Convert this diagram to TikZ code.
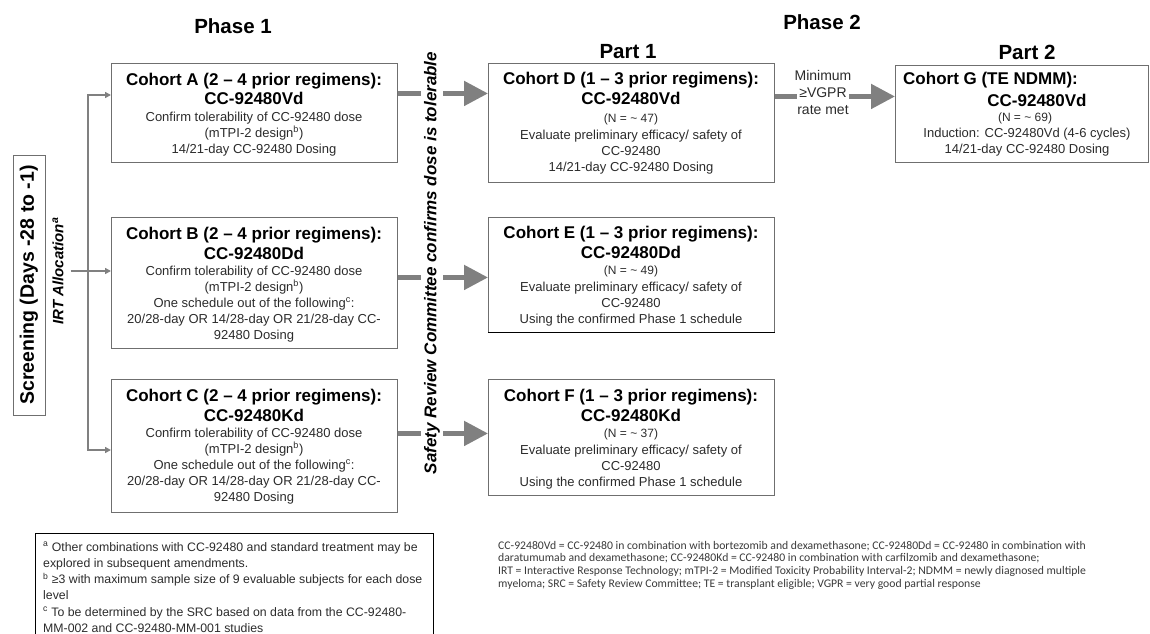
\documentclass[tikz,border=0pt]{standalone}
\usepackage{fontspec}
\setmainfont{Liberation Sans}
\newfontfamily\abbrfont{Carlito}
\usetikzlibrary{arrows.meta}

\definecolor{frame}{HTML}{6F6F6F}
\definecolor{flow}{HTML}{808080}
\definecolor{ink}{HTML}{2B2B2B}
\definecolor{noteink}{HTML}{3A3A3A}

\newcommand{\cohorttitle}{\color{black}\bfseries\fontsize{17}{19}\selectfont}
\newcommand{\nline}{\fontsize{12}{15}\selectfont}

\tikzset{
  cohortbox/.style={draw=frame, line width=0.9pt, anchor=north west, inner sep=0pt},
  cohorttext/.style={anchor=north, align=center, inner sep=0pt, text=ink, font=\fontsize{13}{16}\selectfont},
  heading/.style={font=\bfseries\fontsize{20.5}{24}\selectfont, inner sep=0pt},
  link/.style={draw=flow, line width=1.8pt},
  linktip/.style={-{Triangle[length=6pt,width=6pt]}},
  flowarrow/.style={draw=flow, line width=5pt, -{Triangle[length=24pt,width=24pt]}},
  smalltext/.style={inner sep=0pt, text=ink, font=\fontsize{13}{16}\selectfont},
}

\begin{document}
\begin{tikzpicture}[x=1pt,y=-1pt]
\useasboundingbox (0,0) rectangle (1150,633);

% headings
\node[heading] (ph1) at (233,26) {Phase 1};
\node[heading] (ph2) at (822,22) {Phase 2};
\node[heading] (pt1) at (628,52) {Part 1};
\node[heading] (pt2) at (1027,52) {Part 2};

% screening and allocation
\node[draw=frame, line width=0.9pt, rotate=90, minimum width=260pt, minimum height=32pt,
      inner sep=0pt, font=\bfseries\fontsize{19.5}{22}\selectfont] (scr) at (29,285) {Screening (Days -28 to -1)};
\node[rotate=90, inner sep=0pt, font=\bfseries\itshape\fontsize{15}{18}\selectfont] (irt) at (58,271) {IRT Allocation\textsuperscript{a}};

% phase 1 cohorts
\node[cohortbox, minimum width=286pt, minimum height=99pt] (A) at (111,63) {};
\node[cohortbox, minimum width=286pt, minimum height=131pt] (B) at (111,217) {};
\node[cohortbox, minimum width=286pt, minimum height=133pt] (C) at (111,379) {};

\node[cohorttext] (At) at (254,72.7) {{\cohorttitle Cohort A (2 – 4 prior regimens):}\\[3pt]{\cohorttitle CC-92480Vd}\\[1pt]Confirm tolerability of CC-92480 dose\\(mTPI-2 design\textsuperscript{b})\\14/21-day CC-92480 Dosing};
\node[cohorttext] (Bt) at (254,226.7) {{\cohorttitle Cohort B (2 – 4 prior regimens):}\\[4pt]{\cohorttitle CC-92480Dd}\\[0pt]Confirm tolerability of CC-92480 dose\\(mTPI-2 design\textsuperscript{b})\\One schedule out of the following\textsuperscript{c}:\\20/28-day OR 14/28-day OR 21/28-day CC-\\92480 Dosing};
\node[cohorttext] (Ct) at (254,388.7) {{\cohorttitle Cohort C (2 – 4 prior regimens):}\\[4pt]{\cohorttitle CC-92480Kd}\\[0pt]Confirm tolerability of CC-92480 dose\\(mTPI-2 design\textsuperscript{b})\\One schedule out of the following\textsuperscript{c}:\\20/28-day OR 14/28-day OR 21/28-day CC-\\92480 Dosing};

% phase 2, part 1 cohorts
\node[cohortbox, minimum width=286pt, minimum height=119pt] (D) at (488,63) {};
\node[cohortbox, minimum width=286pt, minimum height=115pt] (E) at (488,217) {};
\node[cohortbox, minimum width=286pt, minimum height=116pt] (F) at (488,379) {};
\draw[black, line width=1.1pt] (E.south west) -- (E.south east);

\node[cohorttext] (Dt) at (631,71.7) {{\cohorttitle Cohort D (1 – 3 prior regimens):}\\[4pt]{\cohorttitle CC-92480Vd}\\[2pt]{\nline (N = \textasciitilde{} 47)}\\[1.5pt]Evaluate preliminary efficacy/ safety of\\CC-92480\\14/21-day CC-92480 Dosing};
\node[cohorttext] (Et) at (631,225.7) {{\cohorttitle Cohort E (1 – 3 prior regimens):}\\[4pt]{\cohorttitle CC-92480Dd}\\[0pt]{\nline (N = \textasciitilde{} 49)}\\[1.5pt]Evaluate preliminary efficacy/ safety of\\CC-92480\\Using the confirmed Phase 1 schedule};
\node[cohorttext] (Ft) at (631,388.7) {{\cohorttitle Cohort F (1 – 3 prior regimens):}\\[4pt]{\cohorttitle CC-92480Kd}\\[0pt]{\nline (N = \textasciitilde{} 37)}\\[1.5pt]Evaluate preliminary efficacy/ safety of\\CC-92480\\Using the confirmed Phase 1 schedule};

% phase 2, part 2 cohort
\node[cohortbox, minimum width=253pt, minimum height=97pt] (G) at (895,65) {};
\node[anchor=base west, inner sep=0pt, font=\bfseries\fontsize{17}{19}\selectfont] (Gt) at (903,84) {Cohort G (TE NDMM):};
\node[anchor=base, inner sep=0pt, font=\bfseries\fontsize{17}{19}\selectfont] (Gd) at (1037,106) {CC-92480Vd};
\node[anchor=base, smalltext, font=\fontsize{12}{15}\selectfont] (Gn) at (1025,121.5) {(N = \textasciitilde{} 69)};
\node[anchor=base, smalltext] (Gi) at (1027,137.6) {Induction: CC-92480Vd (4-6 cycles)};
\node[anchor=base, smalltext] (Gs) at (1027,153.6) {14/21-day CC-92480 Dosing};

% allocation connectors
\coordinate (ja) at (88,95);
\coordinate (jc) at (88,450);
\draw[link, {Triangle[length=6pt,width=6pt]}-{Triangle[length=6pt,width=6pt]}]
  (ja -| A.west) -- (ja) -- (jc) -- (jc -| C.west);
\draw[link, linktip] ([xshift=7pt]irt.south) -- (irt.south -| B.west);

% phase 1 to phase 2 transitions
\draw[flowarrow] ([yshift=19.5pt]A.east) -- ([yshift=19.5pt]A.east -| D.west);
\draw[flowarrow] ([yshift=5.5pt]B.east) -- ([yshift=5.5pt]B.east -| E.west);
\draw[flowarrow] ([yshift=12.5pt]C.east) -- ([yshift=12.5pt]C.east -| F.west);
\node[rotate=90, fill=white, inner sep=3pt, font=\bfseries\itshape\fontsize{17}{20}\selectfont] (src) at (432,263)
  {Safety Review Committee confirms dose is tolerable};

% part 1 to part 2 transition
\draw[flowarrow] ([yshift=26.5pt]D.east) -- ([yshift=26.5pt]D.east -| G.west);
\node[smalltext, font=\fontsize{14}{16}\selectfont] (vg1) at (823,75) {Minimum};
\node[smalltext, font=\fontsize{14}{16}\selectfont, fill=white, inner sep=2.5pt] (vg2) at (823,93) {≥VGPR};
\node[smalltext, font=\fontsize{14}{16}\selectfont] (vg3) at (823,110) {rate met};

% footnotes
\node[draw=black, line width=0.9pt, anchor=north west, minimum width=398pt, minimum height=110pt, inner sep=0pt] (notes) at (35,533) {};
\node[anchor=north west, align=left, inner sep=0pt, text=ink, font=\fontsize{12.3}{16.2}\selectfont] (notetext) at (43,542)
  {\textsuperscript{a} Other combinations with CC-92480 and standard treatment may be\\
   explored in subsequent amendments.\\
   \textsuperscript{b} ≥3 with maximum sample size of 9 evaluable subjects for each dose\\
   level\\
   \textsuperscript{c} To be determined by the SRC based on data from the CC-92480-\\
   MM-002 and CC-92480-MM-001 studies};

% abbreviations
\node[anchor=north west, align=left, inner sep=0pt, text=noteink, font=\abbrfont\fontsize{11.7}{12.6}\selectfont] (abbr) at (498,541)
  {CC-92480Vd = CC-92480 in combination with bortezomib and dexamethasone; CC-92480Dd = CC-92480 in combination with\\
   daratumumab and dexamethasone; CC-92480Kd = CC-92480 in combination with carfilzomib and dexamethasone;\\
   IRT = Interactive Response Technology; mTPI-2 = Modified Toxicity Probability Interval-2; NDMM = newly diagnosed multiple\\
   myeloma; SRC = Safety Review Committee; TE = transplant eligible; VGPR = very good partial response};
\end{tikzpicture}
\end{document}
